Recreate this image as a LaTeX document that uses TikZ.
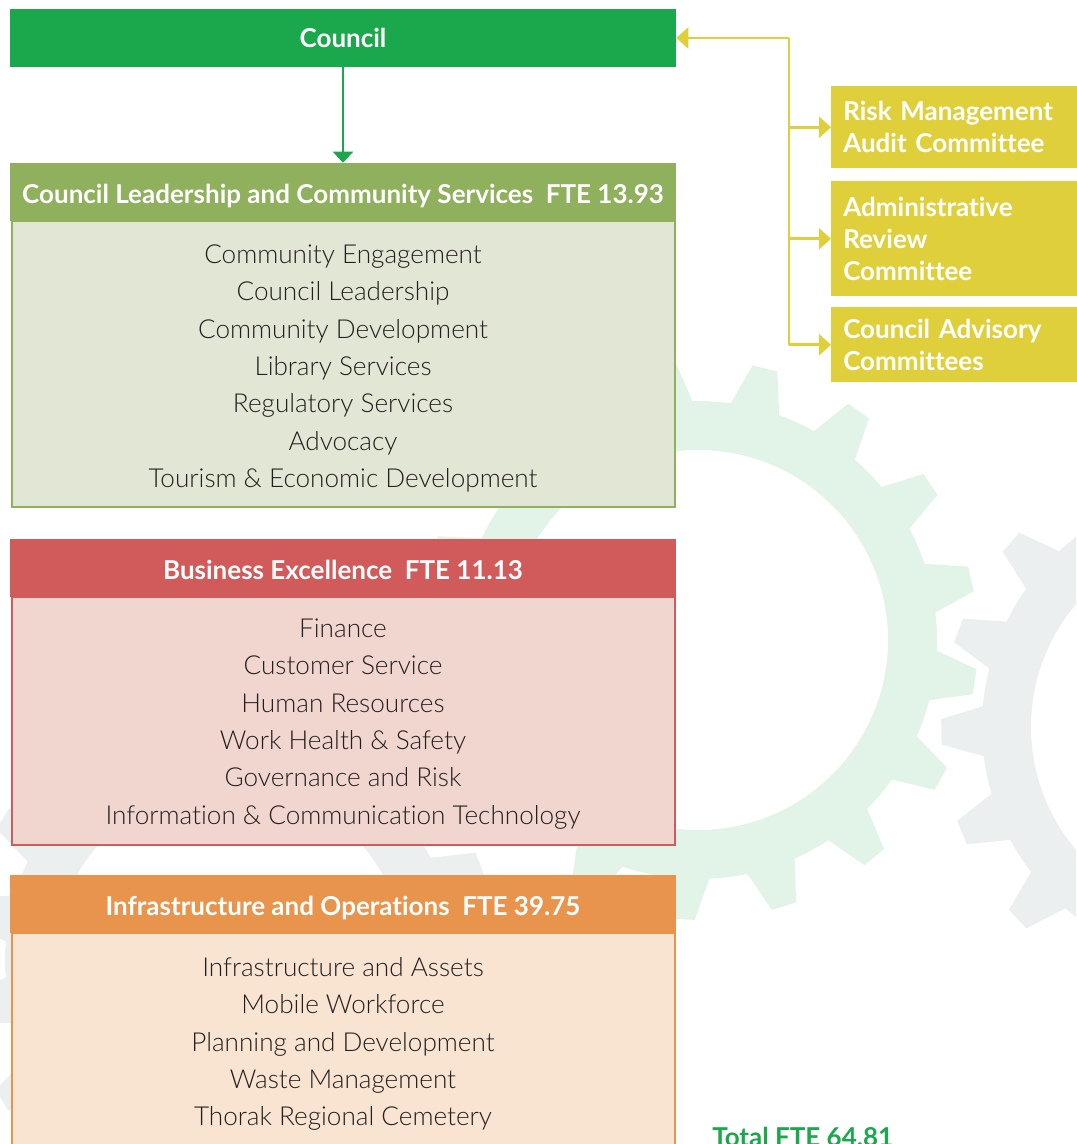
\documentclass[tikz,border=0pt]{standalone}
\usepackage{fontspec}
\setmainfont{Lato}[Ligatures={NoCommon}]
\IfFontExistsTF{Lato Light}{\newfontfamily\lightfont{Lato Light}[Ligatures={NoCommon}]}{\newfontfamily\lightfont{Lato}[Ligatures={NoCommon}]}
\usetikzlibrary{arrows.meta}
\definecolor{councilgreen}{HTML}{1BA84C}
\definecolor{clhead}{HTML}{8FB05C}
\definecolor{clbody}{HTML}{E2E7D5}
\definecolor{behead}{HTML}{D15B5B}
\definecolor{bebody}{HTML}{F1D6D0}
\definecolor{iohead}{HTML}{E8944D}
\definecolor{iobody}{HTML}{F9E4D2}
\definecolor{yel}{HTML}{DFD03B}
\definecolor{gearGreen}{HTML}{E2F4E8}
\definecolor{gearGrey}{HTML}{EBEFEF}
\definecolor{bodytext}{HTML}{231F20}
\newcommand{\mygear}[7]{%
  \fill[#7, even odd rule, shift={(#1,#2)}]
    ({#6-6}:#4) \foreach \k in {0,...,16}{
      -- ({#6+21.176*\k-2.6}:#5) -- ({#6+21.176*\k+2.6}:#5) -- ({#6+21.176*\k+6}:#4)
      arc[start angle={#6+21.176*\k+6}, end angle={#6+21.176*(\k+1)-6}, radius=#4]
    } -- cycle (0,0) circle (#3);
}
\begin{document}
\begin{tikzpicture}[x=0.75pt,y=-0.75pt,
  hdr/.style={minimum width=499.5pt, minimum height=43.5pt, inner sep=0pt, text=white,
    font=\bfseries\fontsize{19.5}{23}\selectfont, text height=17pt, text depth=0pt},
  bodybox/.style={minimum width=497.25pt, line width=1.5pt, inner sep=0pt},
  bodyline/.style={inner sep=0pt, text=bodytext, font=\lightfont\fontsize{19.6}{23}\selectfont,
    text height=14pt, text depth=0pt},
  comm/.style={anchor=north west, fill=yel, text=white, minimum width=186.75pt,
    text width=168.75pt, align=left, inner xsep=9pt, inner ysep=0pt,
    font=\bfseries\fontsize{19.5}{24}\selectfont},
  yline/.style={draw=yel, line width=1.9pt},
  yarrow/.style={-{Triangle[width=15.75pt,length=9pt]}},
  garrow/.style={draw=councilgreen, line width=1.5pt, -{Triangle[width=15pt,length=8.25pt]}}
]
\useasboundingbox (0,0) rectangle (1076,1144);
\begin{scope}
  \clip (0,0) rectangle (1076,1144);
  \mygear{230}{960}{175}{225}{268}{148.4}{gearGrey}
  \mygear{1221}{727}{190}{239}{280}{179}{gearGrey}
  \mygear{698}{640}{190}{239}{280}{-12.6}{gearGreen}
\end{scope}

% Council
\node[hdr, fill=councilgreen, text height=14pt] (council) at (343,38) {Council};

% Council Leadership and Community Services
\node[bodybox, draw=clhead, fill=clbody, minimum height=214.5pt] (clbody) at (343,364) {};
\node[hdr, fill=clhead] (clhead) at (343,192) {Council Leadership and Community Services\ \ FTE 13.93};
\foreach \t [count=\i] in {Community Engagement, Council Leadership, Community Development,
  Library Services, Regulatory Services, Advocacy, Tourism \& Economic Development}
  \node[bodyline] (cl\i) at (343,{254+37.4*(\i-1)}) {\t};

% Business Excellence
\node[bodybox, draw=behead, fill=bebody, minimum height=186pt] (bebody) at (343,721) {};
\node[hdr, fill=behead] (behead) at (343,568) {Business Excellence\ \ FTE 11.13};
\foreach \t [count=\i] in {Finance, Customer Service, Human Resources, Work Health \& Safety,
  Governance and Risk, Information \& Communication Technology}
  \node[bodyline] (be\i) at (343,{628+37.4*(\i-1)}) {\t};

% Infrastructure and Operations
\node[bodybox, draw=iohead, fill=iobody, minimum height=170.25pt] (iobody) at (343,1046.5) {};
\node[hdr, fill=iohead] (iohead) at (343,904) {Infrastructure and Operations\ \ FTE 39.75};
\foreach \t [count=\i] in {Infrastructure and Assets, Mobile Workforce, Planning and Development,
  Waste Management, Thorak Regional Cemetery}
  \node[bodyline] (io\i) at (343,{967+37.4*(\i-1)}) {\t};

% committees
\node[comm, minimum height=61.5pt] (rma) at (831,86) {Risk Management\\Audit Committee};
\node[comm, minimum height=86.25pt] (arc) at (831,181) {Administrative\\Review\\Committee};
\node[comm, minimum height=56.25pt] (cac) at (831,307) {Council Advisory\\Committees};

% connectors
\draw[garrow] (council.south) -- (clhead.north);
\coordinate (trunk) at (789,38);
\draw[yline] (trunk) -- (trunk |- cac.west);
\draw[yline, yarrow] (trunk) -- (council.east);
\draw[yline, yarrow] (trunk |- rma.west) -- (rma.west);
\draw[yline, yarrow] (trunk |- arc.west) -- (arc.west);
\draw[yline, yarrow] (trunk |- cac.west) -- (cac.west);

% total
\node[anchor=base west, inner sep=0pt, text=councilgreen, font=\bfseries\fontsize{19.5}{23}\selectfont] (total) at (712,1146) {Total FTE 64.81};
\end{tikzpicture}
\end{document}
